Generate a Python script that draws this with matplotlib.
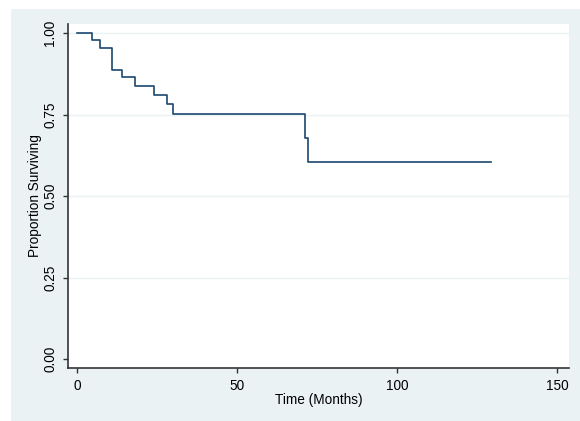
import matplotlib
matplotlib.use("Agg")
import matplotlib.pyplot as plt
from matplotlib.patches import Rectangle

plt.rcParams['font.family'] = ['Liberation Sans', 'DejaVu Sans']

# Kaplan-Meier step curve
times = [0, 4.8, 7.2, 11.1, 14.1, 18.0, 24.0, 28.0, 30.1, 71.3, 72.2, 129.4]
surv = [1.0, 0.977, 0.955, 0.886, 0.864, 0.837, 0.809, 0.781, 0.753, 0.678, 0.603, 0.603]
xticks = [0, 50, 100, 150]
yticks = [0.0, 0.25, 0.5, 0.75, 1.0]
ytick_labels = ["0.00", "0.25", "0.50", "0.75", "1.00"]

bg = '#eaf2f3'
line_col = '#1a476f'

fig = plt.figure(figsize=(5.8, 4.21), dpi=100)
fig.patch.set_facecolor('white')
# stata-like outer background
fig.add_artist(Rectangle((11 / 580, 0), 1, 1 - 9 / 421, transform=fig.transFigure,
                         facecolor=bg, edgecolor='none', zorder=-10))

ax = fig.add_axes([68 / 580, 1 - 367.7 / 421, (568.7 - 68) / 580, (367.7 - 24) / 421])
ax.set_zorder(1)
ax.set_facecolor('white')

ax.step(times, surv, where='post', color=line_col, linewidth=1.2)

ax.set_xlim(-2.8, 153.7)
ax.set_ylim(-0.0266, 1.0276)
ax.set_xticks(xticks)
ax.set_yticks(yticks)
ax.set_yticklabels(ytick_labels, rotation=90, va='center')

for y in yticks[1:]:
    ax.axhline(y, color=bg, linewidth=1.0, zorder=0)

for side in ['top', 'right']:
    ax.spines[side].set_visible(False)
for side in ['left', 'bottom']:
    ax.spines[side].set_color('#333333')
    ax.spines[side].set_linewidth(1.2)

ax.tick_params(axis='both', direction='out', length=3.8, width=1.0, color='#333333',
               labelsize=9.8, pad=4.5)
ax.tick_params(axis='y', pad=4)

ax.set_xlabel('Time (Months)', fontsize=9.8, labelpad=0)
ax.set_ylabel('Proportion Surviving', fontsize=9.8, labelpad=1)

plt.savefig('out.png', dpi=100)
